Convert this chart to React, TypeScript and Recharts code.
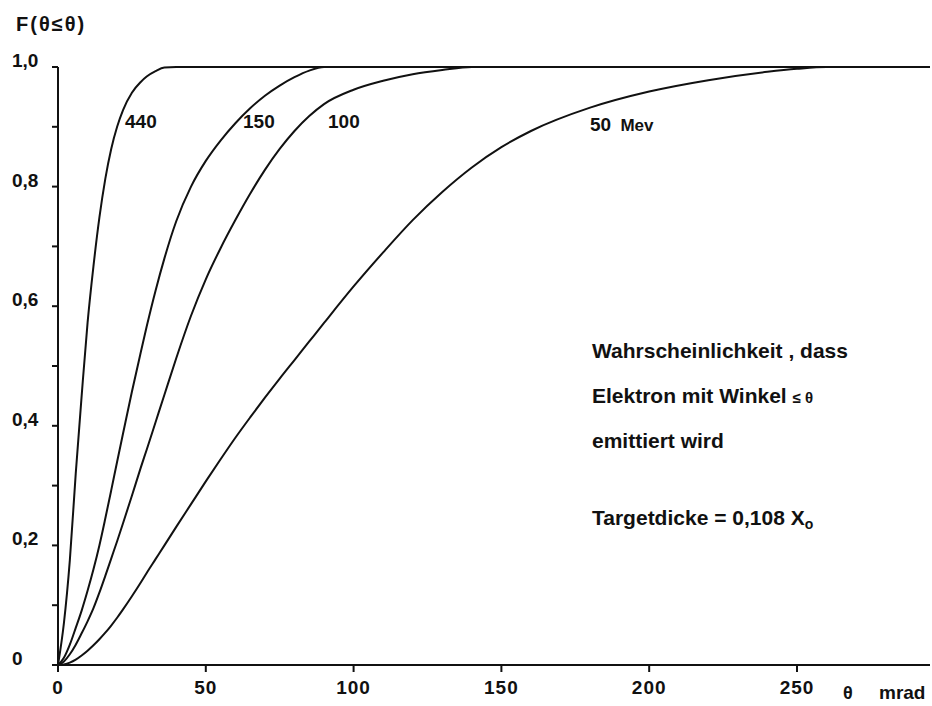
import React from 'react';
import { LineChart, Line, XAxis, YAxis } from 'recharts';

// theta in mrad
const theta = [0, 2, 4, 6, 8, 10, 12, 14, 16, 18, 20, 22, 25, 28, 30, 33, 36, 40, 45, 50, 55, 60, 65, 70, 75, 80, 85, 90, 100, 110, 120, 130, 140, 150, 160, 180, 200, 220, 240, 250, 260, 280, 295];

// F(theta' <= theta) per beam energy
const f440 = [0, 0.07, 0.175, 0.32, 0.45, 0.572, 0.667, 0.748, 0.813, 0.863, 0.9, 0.928, 0.957, 0.975, 0.984, 0.993, 0.999, 1, 1, 1, 1, 1, 1, 1, 1, 1, 1, 1, 1, 1, 1, 1, 1, 1, 1, 1, 1, 1, 1, 1, 1, 1, 1];
const f150 = [0, 0.012, 0.034, 0.062, 0.091, 0.124, 0.16, 0.2, 0.245, 0.292, 0.34, 0.387, 0.457, 0.523, 0.566, 0.626, 0.68, 0.742, 0.8, 0.843, 0.877, 0.906, 0.931, 0.952, 0.969, 0.983, 0.994, 1, 1, 1, 1, 1, 1, 1, 1, 1, 1, 1, 1, 1, 1, 1, 1];
const f100 = [0, 0.006, 0.018, 0.034, 0.053, 0.073, 0.095, 0.121, 0.149, 0.178, 0.207, 0.237, 0.283, 0.33, 0.36, 0.406, 0.452, 0.513, 0.584, 0.645, 0.697, 0.744, 0.788, 0.828, 0.863, 0.893, 0.918, 0.938, 0.962, 0.977, 0.988, 0.995, 1, 1, 1, 1, 1, 1, 1, 1, 1, 1, 1];
const f50 = [0, 0.001, 0.004, 0.009, 0.016, 0.024, 0.033, 0.043, 0.054, 0.066, 0.079, 0.093, 0.115, 0.138, 0.154, 0.177, 0.2, 0.231, 0.269, 0.307, 0.344, 0.38, 0.414, 0.447, 0.479, 0.51, 0.541, 0.572, 0.633, 0.69, 0.744, 0.791, 0.832, 0.866, 0.893, 0.932, 0.959, 0.978, 0.992, 0.997, 1, 1, 1];

const xTicks = [0, 50, 100, 150, 200, 250];
const yTicks = [0, 0.1, 0.2, 0.3, 0.4, 0.5, 0.6, 0.7, 0.8, 0.9, 1.0];
const yLabels: Record<string, string> = { '0': '0', '0.2': '0,2', '0.4': '0,4', '0.6': '0,6', '0.8': '0,8', '1': '1,0' };

const data = theta.map((t, i) => ({ t, f440: f440[i], f150: f150[i], f100: f100[i], f50: f50[i] }));

const INK = '#111';
const FONT = '"Liberation Sans", Arial, sans-serif';

const YTick = (props: any) => {
  const { y, payload } = props;
  const label = yLabels[String(Math.round(payload.value * 10) / 10)];
  if (!label) return <g />;
  return (
    <text x={12} y={y} fontFamily={FONT} fontWeight="bold" fontSize={19} fill={INK}>
      {label}
    </text>
  );
};

const App: React.FC = () => {
  const textProps = { fontFamily: FONT, fontWeight: 'bold' as const, fill: INK };
  return (
    <div style={{ position: 'absolute', left: 0, top: 0, width: 932, height: 706, background: '#fff' }}>
      <LineChart width={932} height={706} data={data} margin={{ top: 67, right: 2, left: 0, bottom: 0 }}>
        <XAxis
          dataKey="t"
          type="number"
          domain={[0, 295]}
          ticks={xTicks}
          tickSize={7}
          tickMargin={9}
          height={41}
          axisLine={{ stroke: INK, strokeWidth: 2 }}
          tickLine={{ stroke: INK, strokeWidth: 2 }}
          tick={{ fill: INK, fontSize: 19, fontFamily: FONT, fontWeight: 'bold', letterSpacing: 1 }}
        />
        <YAxis
          type="number"
          domain={[0, 1]}
          ticks={yTicks}
          width={58}
          tickSize={6}
          axisLine={{ stroke: INK, strokeWidth: 2 }}
          tickLine={{ stroke: INK, strokeWidth: 2 }}
          tick={<YTick />}
        />
        <Line type="monotone" dataKey="f440" stroke={INK} strokeWidth={2} dot={false} isAnimationActive={false} />
        <Line type="monotone" dataKey="f150" stroke={INK} strokeWidth={2} dot={false} isAnimationActive={false} />
        <Line type="monotone" dataKey="f100" stroke={INK} strokeWidth={2} dot={false} isAnimationActive={false} />
        <Line type="monotone" dataKey="f50" stroke={INK} strokeWidth={2} dot={false} isAnimationActive={false} />
      </LineChart>
      <svg width={932} height={706} style={{ position: 'absolute', left: 0, top: 0, pointerEvents: 'none' }}>
        <text x={16} y={31} fontSize={20} letterSpacing={2} {...textProps}>F(θ≤θ)</text>
        <text x={125} y={128} fontSize={19} {...textProps}>440</text>
        <text x={243} y={128} fontSize={19} {...textProps}>150</text>
        <text x={328} y={128} fontSize={19} {...textProps}>100</text>
        <text x={590} y={131} fontSize={19} {...textProps}>
          50 <tspan fontSize={17} dx={4}>Mev</tspan>
        </text>
        <text x={843} y={699} fontSize={18} {...textProps}>θ</text>
        <text x={879} y={699} fontSize={19} {...textProps}>mrad</text>
        <text x={592} y={358} fontSize={21} {...textProps}>Wahrscheinlichkeit , dass</text>
        <text x={592} y={403} fontSize={21} {...textProps}>
          Elektron mit Winkel <tspan fontSize={15}>≤ θ</tspan>
        </text>
        <text x={592} y={448} fontSize={21} {...textProps}>emittiert wird</text>
        <text x={592} y={525} fontSize={21} {...textProps}>
          Targetdicke = 0,108 X<tspan fontSize={14} dy={4}>o</tspan>
        </text>
      </svg>
    </div>
  );
};

export default App;
